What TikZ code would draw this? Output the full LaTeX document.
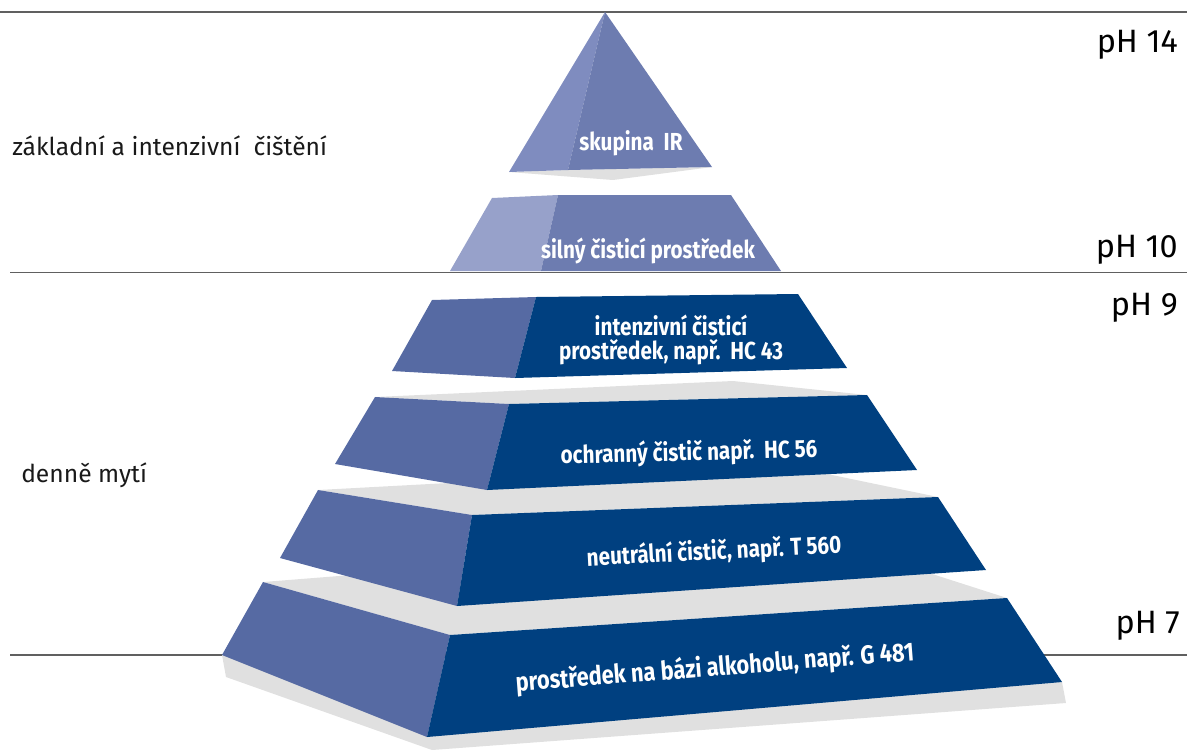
\documentclass[tikz,border=0pt]{standalone}
\usepackage{fontspec}
\setmainfont{Fira Sans}
\newfontfamily\boxfont[FakeStretch=0.84]{Fira Sans}
\usetikzlibrary{positioning,calc}
\definecolor{tipl}{HTML}{7F8CBF}
\definecolor{tipr}{HTML}{6D7CB0}
\definecolor{strongl}{HTML}{97A1CA}
\definecolor{layl}{HTML}{566AA3}
\definecolor{layr}{HTML}{004080}
\definecolor{topgrey}{HTML}{E0E0E0}
\definecolor{rulegrey}{HTML}{606060}
\tikzset{boxtext/.style={text=white,inner sep=0pt,align=center,font=\boxfont\bfseries\fontsize{17.5}{17.7}\selectfont},
	 phlabel/.style={anchor=base east,inner sep=0pt,text=black,font=\fontsize{23}{26}\selectfont},
	 sidelabel/.style={anchor=base west,inner sep=0pt,text=black!90,font=\fontsize{17.5}{20}\selectfont},
	 rule/.style={draw=rulegrey,line width=1pt}
	 }
% one layer: top left, ridge top, top right, bottom right, ridge bottom, bottom left, colours
\newcommand{\pyrlayer}[8]{%
	\fill[topgrey] #1 -- #2 -- #3 -- ($#1+#3-#2+(0,-7)$) -- cycle;
	\fill[#7] #1 -- #2 -- #5 -- #6 -- cycle;
	\fill[#8] #2 -- #3 -- #4 -- #5 -- cycle;}

\begin{document}
\begin{tikzpicture}[x=0.025cm,y=-0.025cm] % pH pyramid
	\useasboundingbox (0,0) rectangle (1187,751);
	\draw[rule] (0,12) -- (1187,12);
	\draw[rule] (10,272.5) -- (1187,272.5);
	\draw[rule] (10,655) -- (1187,655);
	\fill[topgrey] (222,655) -- (226,677) -- (432,750) -- (1066,703) -- (1062,682) -- cycle;
	\pyrlayer{(263,582)}{(450,635)}{(1007,598)}{(1062,682)}{(427,737)}{(222,655)}{layl}{layr}
	\pyrlayer{(318,490)}{(472,515)}{(938,497)}{(986,570)}{(457,606)}{(280,558)}{layl}{layr}
	\pyrlayer{(375,397)}{(509,404)}{(867,395)}{(917,470)}{(487,490)}{(335,464)}{layl}{layr}
	\fill[layl] (432,300) -- (536,297) -- (515,378) -- (392,371) -- cycle;
	\fill[layr] (536,297) -- (798,294) -- (847,368) -- (515,378) -- cycle;
	\fill[strongl] (492,198) -- (558,195) -- (541,271) -- (450,271) -- cycle;
	\fill[tipr] (558,195) -- (731,195) -- (781,271) -- (541,271) -- cycle;
	\fill[topgrey] (509,172) -- (613,180) -- (712,167) -- (568,170) -- cycle;
	\fill[tipl] (605,12) -- (509,172) -- (568,170) -- cycle;
	\fill[tipr] (605,12) -- (568,170) -- (712,167) -- cycle;
	\node[boxtext] (tip) at (631,143) {skupina\ \ IR};
	\node[boxtext] (strong) at (648,251) {silný čisticí prostředek};
	\node[boxtext] (intens) at (671,340) {intenzivní čisticí\\prostředek, např.\ \ HC 43};
	\node[boxtext,rotate=1.5] (protect) at (689,453) {ochranný čistič např.\ \ HC 56};
	\node[boxtext,rotate=3] (neutral) at (714,552) {neutrální čistič, např. T 560};
	\node[boxtext,rotate=4.5,font=\boxfont\bfseries\fontsize{18.5}{20}\selectfont] (alcohol) at (715,668) {prostředek na bázi alkoholu, např. G 481};
	\node[phlabel] (ph14) at (1178,52) {pH 14};
	\node[phlabel] (ph10) at (1178,257) {pH 10};
	\node[phlabel] (ph9) at (1178,315) {pH 9};
	\node[phlabel] (ph7) at (1180,633) {pH 7};
	\node[sidelabel] (basic) at (12,155) {základní a intenzivní\ \ čištění};
	\node[sidelabel] (daily) at (21,482) {denně mytí};
\end{tikzpicture}
\end{document}
